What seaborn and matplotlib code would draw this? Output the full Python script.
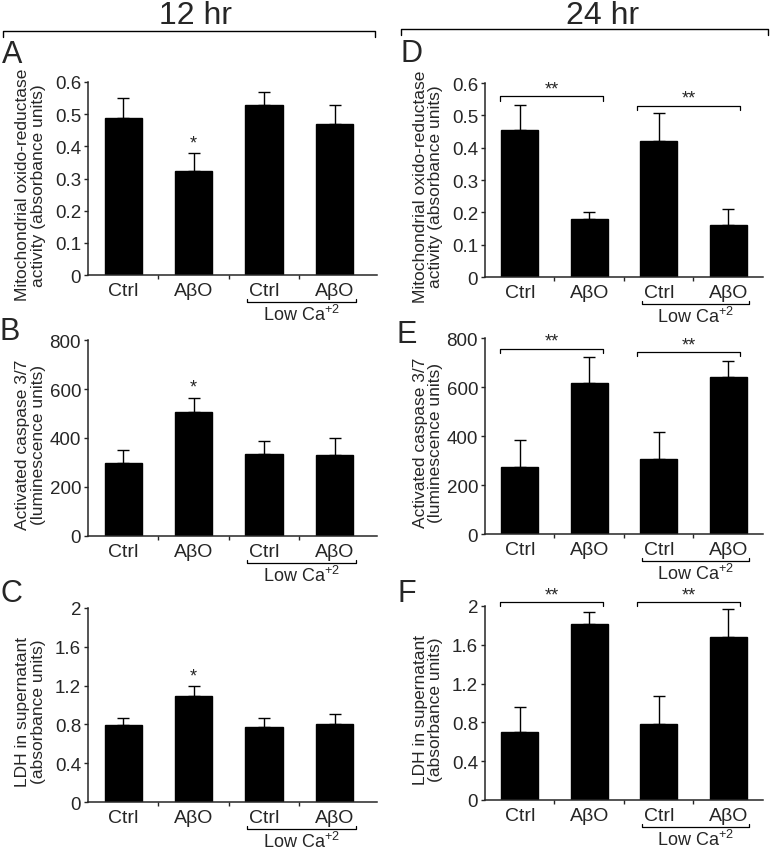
import matplotlib
matplotlib.use('Agg')
import matplotlib.pyplot as plt
import pandas as pd
import seaborn as sns
from matplotlib.lines import Line2D

# Data (mean, upper error)
conditions = ['ctrl', 'abo', 'ctrl_lowca', 'abo_lowca']
tick_labels = ['Ctrl', 'A\u03b2O', 'Ctrl', 'A\u03b2O']

mito_12 = [0.489, 0.323, 0.530, 0.468]
mito_12_err = [0.061, 0.055, 0.038, 0.060]
casp_12 = [299, 506, 335, 332]
casp_12_err = [52, 56, 51, 68]
ldh_12 = [0.790, 1.096, 0.777, 0.808]
ldh_12_err = [0.079, 0.096, 0.092, 0.096]

mito_24 = [0.455, 0.181, 0.420, 0.161]
mito_24_err = [0.077, 0.019, 0.088, 0.050]
casp_24 = [273, 615, 307, 639]
casp_24_err = [112, 109, 109, 66]
ldh_24 = [0.703, 1.814, 0.779, 1.679]
ldh_24_err = [0.252, 0.124, 0.293, 0.293]

sig_heights_mito = [0.559, 0.530]
sig_heights_casp = [756, 743]
sig_heights_ldh = [2.04, 2.04]

sns.set_style('ticks')
plt.rcParams['font.family'] = ['Liberation Sans', 'DejaVu Sans']
plt.rcParams['mathtext.fontset'] = 'custom'
plt.rcParams['mathtext.rm'] = 'Liberation Sans'

fig = plt.figure(figsize=(7.71, 8.53), dpi=100)

left_x, left_w = 0.1141, 0.3748
right_x, right_w = 0.629, 0.3606

panels = [
    # letter, rect, values, errors, ylim, yticks, ticklabels, ylabel, sig
    ('A', [left_x, 0.6764, left_w, 0.2263], mito_12, mito_12_err, 0.6,
     [0, 0.1, 0.2, 0.3, 0.4, 0.5, 0.6], ['0', '0.1', '0.2', '0.3', '0.4', '0.5', '0.6'],
     'Mitochondrial oxido-reductase\nactivity (absorbance units)', None),
    ('B', [left_x, 0.3705, left_w, 0.2297], casp_12, casp_12_err, 800,
     [0, 200, 400, 600, 800], ['0', '200', '400', '600', '800'],
     'Activated caspase 3/7\n(luminescence units)', None),
    ('C', [left_x, 0.0586, left_w, 0.2275], ldh_12, ldh_12_err, 2.0,
     [0, 0.4, 0.8, 1.2, 1.6, 2.0], ['0', '0.4', '0.8', '1.2', '1.6', '2'],
     'LDH in supernatant\n(absorbance units)', None),
    ('D', [right_x, 0.674, right_w, 0.2275], mito_24, mito_24_err, 0.6,
     [0, 0.1, 0.2, 0.3, 0.4, 0.5, 0.6], ['0', '0.1', '0.2', '0.3', '0.4', '0.5', '0.6'],
     'Mitochondrial oxido-reductase\nactivity (absorbance units)', sig_heights_mito),
    ('E', [right_x, 0.3728, right_w, 0.2297], casp_24, casp_24_err, 800,
     [0, 200, 400, 600, 800], ['0', '200', '400', '600', '800'],
     'Activated caspase 3/7\n(luminescence units)', sig_heights_casp),
    ('F', [right_x, 0.061, right_w, 0.2274], ldh_24, ldh_24_err, 2.0,
     [0, 0.4, 0.8, 1.2, 1.6, 2.0], ['0', '0.4', '0.8', '1.2', '1.6', '2'],
     'LDH in supernatant\n(absorbance units)', sig_heights_ldh),
]

letter_pos = {'A': (0.002, 0.926), 'B': (0.0, 0.6014), 'C': (0.0, 0.2943),
              'D': (0.520, 0.927), 'E': (0.514, 0.598), 'F': (0.516, 0.294)}

for letter, rect, vals, errs, ymax, yt, ytl, ylab, sig in panels:
    ax = fig.add_axes(rect)
    df = pd.DataFrame({'cond': conditions, 'value': vals})
    sns.barplot(data=df, x='cond', y='value', order=conditions, color='black',
                edgecolor='black', width=0.53, saturation=1, ax=ax)
    ax.errorbar(range(len(vals)), vals, yerr=[[0] * len(errs), errs], fmt='none',
                ecolor='black', elinewidth=1.0, capsize=4.5, capthick=1.0)
    right_lim = 3.6 if rect[0] < 0.5 else 3.5
    ax.set_xlim(-0.5, right_lim)
    ax.set_ylim(0, ymax)
    ax.set_yticks(yt)
    ax.set_yticklabels(ytl, fontsize=13.5)
    ax.set_xticks(range(4))
    ax.set_xticklabels(tick_labels, fontsize=14)
    ax.set_xticks([0.5, 1.5, 2.5], minor=True)
    ax.tick_params(axis='x', which='major', length=0, pad=5)
    ax.tick_params(axis='x', which='minor', length=3, width=1, direction='out')
    ax.tick_params(axis='y', length=3, width=1, pad=2)
    ax.set_xlabel('')
    ax.set_ylabel(ylab, fontsize=12.5, linespacing=1.05)
    label_x = -0.145 if rect[0] < 0.5 else -0.15
    ax.yaxis.set_label_coords(label_x, 0.47)
    sns.despine(ax=ax)
    for sp in ['left', 'bottom']:
        ax.spines[sp].set_linewidth(1.1)

    # Low Ca bracket under the last two groups
    trans = ax.get_xaxis_transform()
    ax.plot([1.76, 1.76, 3.3, 3.3], [-0.125, -0.14, -0.14, -0.125], color='black',
            lw=0.9, transform=trans, clip_on=False)
    ax.text(2.53, -0.15, r'Low Ca$^{\mathregular{+2}}$', transform=trans,
            ha='center', va='top', fontsize=13)

    if sig is None:
        ax.text(1, vals[1] + errs[1] + ymax * 0.012, '*', ha='center', va='bottom',
                fontsize=13)
    else:
        for (x0, x1), h in zip([(-0.29, 1.2), (1.69, 3.17)], sig):
            tick = ymax * 0.022
            ax.plot([x0, x0, x1, x1], [h - tick, h, h, h - tick], color='black',
                    lw=0.9, clip_on=False)
            ax.text((x0 + x1) / 2, h - ymax * 0.005, '**', ha='center', va='bottom',
                    fontsize=13)

    lx, ly = letter_pos[letter]
    fig.text(lx, ly, letter, fontsize=22, va='baseline', ha='left')

# Time headers with brackets
fig.text(0.253, 0.981, '12 hr', fontsize=23, ha='center', va='center')
fig.text(0.781, 0.981, '24 hr', fontsize=23, ha='center', va='center')
for x0, x1, y in [(3 / 771, 375 / 771, 1 - 32 / 853), (401 / 771, 768 / 771, 1 - 30 / 853)]:
    fig.add_artist(Line2D([x0, x0, x1, x1], [y - 0.007, y, y, y - 0.007],
                          color='black', lw=1.0, transform=fig.transFigure))

plt.savefig('out.png', dpi=100)
